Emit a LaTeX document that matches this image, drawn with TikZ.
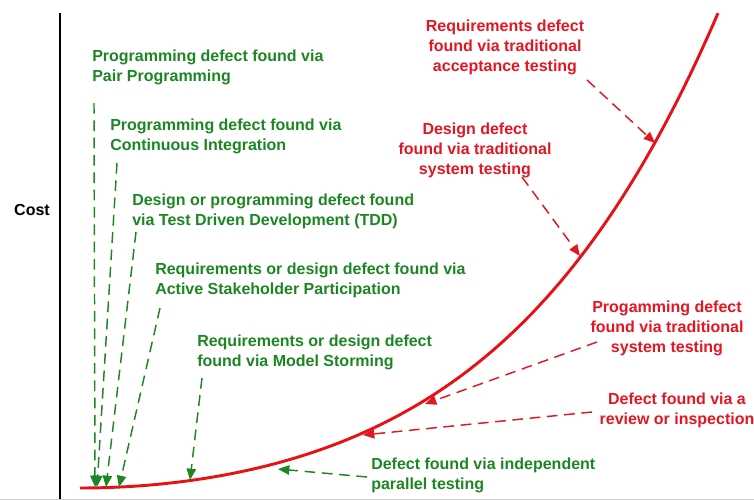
\documentclass[tikz,border=0pt]{standalone}
\usepackage{fontspec}
\setmainfont{Liberation Sans}
\usetikzlibrary{arrows.meta}
\definecolor{lblgreen}{RGB}{28,134,34}
\definecolor{lblred}{RGB}{228,22,34}
\definecolor{curvered}{RGB}{232,18,22}
\tikzset{
  greenlbl/.style={text=lblgreen, font=\bfseries\fontsize{12}{15}\selectfont, align=left, anchor=west, inner sep=0pt},
  redlbl/.style={text=lblred, font=\bfseries\fontsize{12}{15}\selectfont, align=center, inner sep=0pt},
  garrow/.style={draw=lblgreen, line width=1.1pt, dash pattern=on 8pt off 5pt, -{Triangle[length=8.5pt,width=7pt]}},
  rarrow/.style={draw=lblred, line width=1.1pt, dash pattern=on 8pt off 5pt, -{Triangle[length=8.5pt,width=7pt]}}
}
\begin{document}
\begin{tikzpicture}[x=0.75pt,y=-0.75pt]
\useasboundingbox (0,0) rectangle (754,500);
% axis
\draw[line width=2pt] (60,13) coordinate (axtop) -- (60,500) coordinate (axbot);
\draw[gray!40, line width=0.8pt] (0,499.5) coordinate (gl) -- (754,499.5) coordinate (gr);
\node[font=\bfseries\fontsize{12}{15}\selectfont, inner sep=0pt] (cost) at (32,210) {Cost};
% curve
\draw[curvered, line width=2.2pt, line join=round] (80,488) coordinate (cstart) -- plot[domain=81:718, samples=120]
  (\x, {488 - 247*((\x-80)/638)^2 - 228*((\x-80)/638)^4.36});
% green labels
\node[greenlbl] (pp) at (92,67) {Programming defect found via\\Pair Programming};
\node[greenlbl] (ci) at (110,136) {Programming defect found via\\Continuous Integration};
\node[greenlbl] (tdd) at (132,211) {Design or programming defect found\\via Test Driven Development (TDD)};
\node[greenlbl] (asp) at (155,280) {Requirements or design defect found via\\Active Stakeholder Participation};
\node[greenlbl] (ms) at (197,352) {Requirements or design defect\\found via Model Storming};
\node[greenlbl] (par) at (371,475) {Defect found via independent\\parallel testing};
% red labels
\node[redlbl] (acc) at (505,47) {Requirements defect\\found via traditional\\acceptance testing};
\node[redlbl] (des) at (475,150) {Design defect\\found via traditional\\system testing};
\node[redlbl] (prog) at (667,328) {Progamming defect\\found via traditional\\system testing};
\node[redlbl] (rev) at (677,410) {Defect found via a\\review or inspection};
% arrow coordinates
\coordinate (ppS) at (94,103);   \coordinate (ppE) at (95,487);
\coordinate (ciS) at (117,163);  \coordinate (ciE) at (97,487);
\coordinate (tddS) at (136,232); \coordinate (tddE) at (106,487);
\coordinate (aspS) at (160,308); \coordinate (aspE) at (119,487);
\coordinate (msS) at (202,378);  \coordinate (msE) at (190,480);
\coordinate (parS) at (367,477); \coordinate (parE) at (278,469);
\coordinate (accS) at (587,80);  \coordinate (accE) at (655,143);
\coordinate (desS) at (522,177); \coordinate (desE) at (580,256);
\coordinate (progS) at (597,342); \coordinate (progE) at (425,404);
\coordinate (revS) at (592,412); \coordinate (revE) at (363,435);
% green arrows
\draw[garrow] (ppS) -- (ppE);
\draw[garrow] (ciS) -- (ciE);
\draw[garrow] (tddS) -- (tddE);
\draw[garrow] (aspS) -- (aspE);
\draw[garrow] (msS) -- (msE);
\draw[garrow] (parS) -- (parE);
% red arrows
\draw[rarrow] (accS) -- (accE);
\draw[rarrow] (desS) -- (desE);
\draw[rarrow] (progS) -- (progE);
\draw[rarrow] (revS) -- (revE);
\end{tikzpicture}
\end{document}
